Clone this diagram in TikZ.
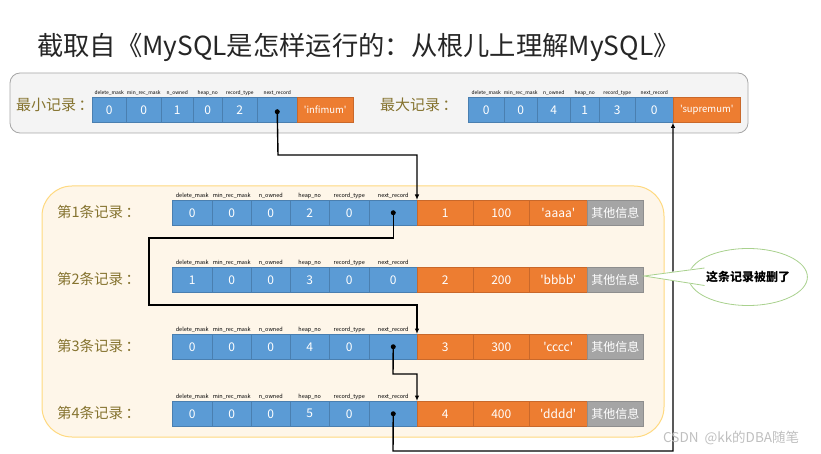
\documentclass[tikz,border=0pt]{standalone}
\usepackage{fontspec}
\newfontfamily\cjk{Noto Sans CJK SC}
\usetikzlibrary{shapes.geometric,arrows.meta}
\definecolor{fblue}{HTML}{5B9BD5}
\definecolor{fblueD}{HTML}{4A7FB0}
\definecolor{forange}{HTML}{ED7D31}
\definecolor{forangeD}{HTML}{C9682A}
\definecolor{fgray}{HTML}{A5A5A5}
\definecolor{fgrayD}{HTML}{8E8E8E}
\definecolor{lbl}{HTML}{85732F}
\definecolor{ybg}{HTML}{FEF6E9}
\definecolor{yborder}{HTML}{FFD97F}
\definecolor{gbg}{HTML}{F4F4F4}
\definecolor{gborder}{HTML}{A6A6A6}
\definecolor{callg}{HTML}{A9D18E}
\tikzset{
  fld/.style={inner sep=0, minimum height=25pt, anchor=north west, text=white, line width=0.5pt, font=\cjk\fontsize{12}{12}\selectfont},
  bfld/.style={fld, draw=fblueD, fill=fblue},
  ofld/.style={fld, draw=forangeD, fill=forange},
  gfld/.style={fld, draw=fgrayD, fill=fgray},
  flab/.style={anchor=south, inner sep=1.5pt, font=\cjk\fontsize{5.5}{5.5}\selectfont},
  tlab/.style={flab, font=\cjk\fontsize{4.9}{5}\selectfont},
  rlab/.style={anchor=west, inner sep=0, text=lbl, font=\cjk\fontsize{14.5}{15}\selectfont},
  dotn/.style={circle, fill=black, inner sep=0, minimum size=5pt},
  link/.style={line width=1.4pt, -{Latex[length=5.5pt,width=4.5pt]}},
}
\newcommand\bluerow[8]{%
  \node[bfld,minimum width=40pt] (#1f1) at (172,#2) {#3};
  \node[bfld,minimum width=39pt] (#1f2) at (212,#2) {#4};
  \node[bfld,minimum width=39pt] (#1f3) at (251,#2) {#5};
  \node[bfld,minimum width=39pt] (#1f4) at (290,#2) {#6};
  \node[bfld,minimum width=40pt] (#1f5) at (329,#2) {#7};
  \node[bfld,minimum width=48pt] (#1f6) at (369,#2) {#8};
  \node[flab] (#1l1) at (#1f1.north) {delete\_mask};
  \node[flab] (#1l2) at (#1f2.north) {min\_rec\_mask};
  \node[flab] (#1l3) at (#1f3.north) {n\_owned};
  \node[flab] (#1l4) at (#1f4.north) {heap\_no};
  \node[flab] (#1l5) at (#1f5.north) {record\_type};
  \node[flab] (#1l6) at (#1f6.north) {next\_record};
}
\newcommand\orangerow[5]{%
  \node[ofld,minimum width=56pt] (#1o1) at (417,#2) {#3};
  \node[ofld,minimum width=56pt] (#1o2) at (473,#2) {#4};
  \node[ofld,minimum width=58pt] (#1o3) at (529,#2) {#5};
  \node[gfld,minimum width=56pt] (#1g) at (587,#2) {其他信息};
}
\begin{document}
\begin{tikzpicture}[x=1pt,y=-1pt]
\useasboundingbox (0,0) rectangle (821,454);
% title
\node[anchor=west, inner sep=0, text=black!85, font=\cjk\fontsize{26.3}{28}\selectfont] (title) at (37,47) {截取自《MySQL是怎样运行的：从根儿上理解MySQL》};
% frames
\draw[fill=gbg, draw=gborder, line width=0.8pt, rounded corners=10pt] (10,73) rectangle (748,133);
\draw[fill=ybg, draw=yborder, line width=1pt, rounded corners=30pt] (42,186) rectangle (664,437);
% min record
\node[rlab, font=\cjk\fontsize{15}{15}\selectfont] (minl) at (16,105) {最小记录\,：};
\node[bfld,minimum width=34pt] (mn1) at (92,97) {0};
\node[bfld,minimum width=35pt] (mn2) at (126,97) {0};
\node[bfld,minimum width=32pt] (mn3) at (161,97) {1};
\node[bfld,minimum width=29pt] (mn4) at (193,97) {0};
\node[bfld,minimum width=35pt] (mn5) at (222,97) {2};
\node[bfld,minimum width=40pt] (mn6) at (257,97) {};
\node[ofld,minimum width=56pt,font=\cjk\fontsize{9.5}{9.5}\selectfont] (inf) at (297,97) {'infimum'};
\node[tlab] (mnl1) at (mn1.north) {delete\_mask};
\node[tlab] (mnl2) at (mn2.north) {min\_rec\_mask};
\node[tlab] (mnl3) at (mn3.north) {n\_owned};
\node[tlab] (mnl4) at (mn4.north) {heap\_no};
\node[tlab] (mnl5) at (mn5.north) {record\_type};
\node[tlab] (mnl6) at (mn6.north) {next\_record};
\node[dotn] (dmin) at ([yshift=-2pt]mn6.center) {};
% max record
\node[rlab, font=\cjk\fontsize{15}{15}\selectfont] (maxl) at (380,105) {最大记录\,：};
\node[bfld,minimum width=36pt] (mx1) at (468,97) {0};
\node[bfld,minimum width=33pt] (mx2) at (504,97) {0};
\node[bfld,minimum width=33pt] (mx3) at (537,97) {4};
\node[bfld,minimum width=29pt] (mx4) at (570,97) {1};
\node[bfld,minimum width=36pt] (mx5) at (599,97) {3};
\node[bfld,minimum width=38pt] (mx6) at (635,97) {0};
\node[ofld,minimum width=67pt,font=\cjk\fontsize{9.5}{9.5}\selectfont] (sup) at (673,97) {'supremum'};
\node[tlab] (mxl1) at (mx1.north) {delete\_mask};
\node[tlab] (mxl2) at (mx2.north) {min\_rec\_mask};
\node[tlab] (mxl3) at (mx3.north) {n\_owned};
\node[tlab] (mxl4) at (mx4.north) {heap\_no};
\node[tlab] (mxl5) at (mx5.north) {record\_type};
\node[tlab] (mxl6) at (mx6.north) {next\_record};
% records
\node[rlab] (l1) at (57,212) {第1条记录\,：};
\bluerow{ra}{200}{0}{0}{0}{2}{0}{}
\orangerow{ra}{200}{1}{100}{'aaaa'}
\node[rlab] (l2) at (57,279) {第2条记录\,：};
\bluerow{rb}{267}{1}{0}{0}{3}{0}{0}
\orangerow{rb}{267}{2}{200}{'bbbb'}
\node[rlab] (l3) at (57,346) {第3条记录\,：};
\bluerow{rc}{334}{0}{0}{0}{4}{0}{}
\orangerow{rc}{334}{3}{300}{'cccc'}
\node[rlab] (l4) at (57,413) {第4条记录\,：};
\bluerow{rd}{401}{0}{0}{0}{5}{0}{}
\orangerow{rd}{401}{4}{400}{'dddd'}
\node[dotn] (da) at (raf6.center) {};
\node[dotn] (dc) at (rcf6.center) {};
\node[dotn] (dd) at (rdf6.center) {};
% connectors
\coordinate (b0) at (278,155);
\coordinate (b1) at (149,238);
\coordinate (b2) at (149,305);
\coordinate (b3) at (393,374);
\coordinate (b4) at (393,451);
\draw[link] (dmin.center) -- (b0) -| (rao1.north west);
\draw[link] (da.center) |- (b1) -- (b2) -| (rco1.north west);
\draw[link] (dc.center) -- (b3) -| (rdo1.north west);
\draw[link] (dd.center) -- (b4) -| (sup.south west);
% callout
\node[ellipse, draw=callg, fill=white, line width=0.8pt, minimum width=92pt, minimum height=57pt, inner sep=0, font=\cjk\bfseries\fontsize{12}{12}\selectfont] (call) at (748,277) {这条记录被删了};
\coordinate (tip) at (644,276);
\fill[white] (tip) -- (706,266.5) -- (706,286.5) -- cycle;
\draw[callg, line width=0.8pt] (704.5,268) -- (tip) -- (704.5,285.5);
% watermark
\node[anchor=west, inner sep=0, text=black!25, font=\cjk\fontsize{13.5}{14}\selectfont] (wm) at (663,438) {CSDN\hspace{6pt}@kk的DBA随笔};
\end{tikzpicture}
\end{document}
